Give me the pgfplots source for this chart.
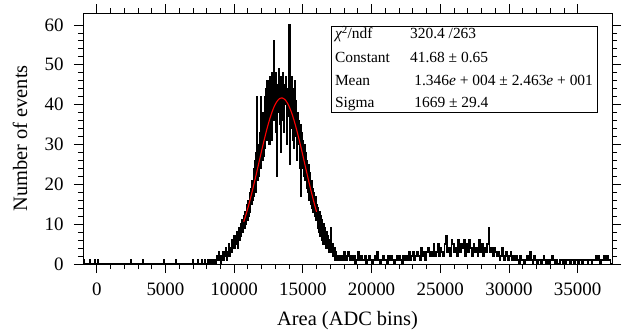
\documentclass[border=0pt]{standalone}
\usepackage{pgfplots}
\pgfplotsset{compat=1.18}
\usepackage{fontspec}
\setmainfont{Liberation Serif}
\begin{document}
\begin{tikzpicture}
\begin{axis}[
 at={(0,0)}, anchor=south west,
 width=529bp, height=251bp, scale only axis,
 xmin=-1000, xmax=37500, ymin=0, ymax=63,
 xtick={0,5000,...,35000}, ytick={0,10,...,60},
 minor x tick num=4, minor y tick num=4,
 tick align=outside,
 major tick length=9bp, minor tick length=5bp,
 tick style={black, line width=0.8bp},
 axis line style={line width=0.9bp},
 scaled ticks=false,
 /pgf/number format/1000 sep={},
 /pgf/number format/assume math mode=true,
 tick label style={font=\fontsize{19}{21}\selectfont},
 xticklabel style={yshift=-6bp},
 yticklabel style={xshift=-7bp},
 xlabel={Area (ADC bins)}, ylabel={Number of events},
 every axis x label/.style={at={(axis description cs:0.5,-0.227)}, anchor=center, font=\fontsize{20.5}{24}\selectfont},
 every axis y label/.style={at={(axis description cs:-0.119,0.5)}, anchor=center, rotate=90, font=\fontsize{20.5}{24}\selectfont},
]
% histogram
\addplot[black, line width=1.45bp, const plot mark left] coordinates {
(-1000,0) (-950,1) (-910,0) (-510,1) (-470,0) (-150,1) (-110,0) (60,1) (100,0)
(2480,1) (2520,0) (3360,1) (3400,0) (4890,1) (4930,0) (5770,1) (5810,0)
(7010,1) (7050,0) (7370,1) (7410,0) (7660,1) (7700,0) (7880,1) (7920,0) (8100,1) (8140,0)
(8200,0) (8250,1) (8300,0) (8350,1) (8400,0) (8450,1) (8500,1) (8550,0) (8600,1) (8650,0)
(8700,2) (8750,1) (8800,1) (8850,3) (8900,1) (8950,2) (9000,0) (9050,2) (9100,1) (9150,3)
(9200,2) (9250,1) (9300,3) (9350,2) (9400,4) (9450,1) (9500,3) (9550,2) (9600,5) (9650,2)
(9700,4) (9750,3) (9800,6) (9850,3) (9900,5) (9950,4) (10000,7) (10050,4) (10100,6) (10150,5)
(10200,8) (10250,4) (10300,7) (10350,9) (10400,6) (10450,10) (10500,7) (10550,11) (10600,8) (10650,10)
(10700,12) (10750,9) (10800,13) (10850,10) (10900,15) (10950,11) (11000,16) (11050,12) (11100,18) (11150,13)
(11200,19) (11250,15) (11300,21) (11350,16) (11400,24) (11450,17) (11500,26) (11550,18) (11600,28) (11650,42)
(11700,21) (11750,30) (11800,22) (11850,33) (11900,42) (11950,24) (12000,35) (12050,26) (12100,38) (12150,27)
(12200,42) (12250,29) (12300,44) (12350,31) (12400,46) (12450,33) (12500,45) (12550,30) (12600,47) (12650,34)
(12700,48) (12750,31) (12800,44) (12850,56) (12900,36) (12950,47) (13000,33) (13050,48) (13100,22) (13150,45)
(13200,38) (13250,49) (13300,35) (13350,47) (13400,28) (13450,46) (13500,36) (13550,48) (13600,33) (13650,45)
(13700,40) (13750,47) (13800,30) (13850,44) (13900,37) (13950,47) (14000,60) (14050,25) (14100,43) (14150,34)
(14200,47) (14250,31) (14300,44) (14350,29) (14400,46) (14450,32) (14500,41) (14550,26) (14600,38) (14650,30)
(14700,36) (14750,24) (14800,35) (14850,17) (14900,33) (14950,24) (15000,31) (15050,22) (15100,30) (15150,21)
(15200,28) (15250,19) (15300,26) (15350,18) (15400,25) (15450,16) (15500,23) (15550,15) (15600,21) (15650,14)
(15700,19) (15750,13) (15800,18) (15850,12) (15900,17) (15950,11) (16000,15) (16050,9) (16100,14) (16150,8)
(16200,13) (16250,7) (16300,12) (16350,6) (16400,11) (16450,5) (16500,10) (16550,5) (16600,9) (16650,4)
(16700,8) (16750,4) (16800,7) (16850,3) (16900,6) (16950,3) (17000,9) (17050,3) (17100,5) (17150,2)
(17200,5) (17250,2) (17300,4) (17350,1) (17400,3) (17450,2)
(17500,1) (17600,2) (17700,1) (17800,2) (17900,1) (18000,3) (18100,1) (18200,2) (18300,3) (18400,1)
(18500,2) (18600,1) (18700,2) (18800,0) (18900,1) (19000,3) (19100,1) (19200,2) (19300,1) (19400,1)
(19500,2) (19600,0) (19700,1) (19800,2) (19900,1) (20000,0) (20100,1) (20200,2) (20300,1) (20400,3)
(20500,1) (20600,0) (20700,1) (20800,2) (20900,1) (21000,1) (21100,0) (21200,2) (21300,1) (21400,2)
(21500,1) (21600,0) (21700,1) (21800,2) (21900,1) (22000,2) (22100,1) (22200,0) (22300,2) (22400,1)
(22500,2) (22600,1) (22700,3) (22800,1) (22900,2) (23000,3) (23100,1) (23200,2) (23300,3) (23400,2)
(23500,1) (23600,4) (23700,2) (23800,3) (23900,1) (24000,3) (24100,4) (24200,2) (24300,3) (24400,2)
(24500,5) (24600,2) (24700,3) (24800,5) (24900,2) (25000,4) (25100,3) (25200,2) (25300,5) (25400,7)
(25500,3) (25600,4) (25700,2) (25800,6) (25900,5) (26000,3) (26100,4) (26200,2) (26300,6) (26400,3)
(26500,5) (26600,4) (26700,6) (26800,2) (26900,5) (27000,3) (27100,6) (27200,4) (27300,2) (27400,5)
(27500,3) (27600,4) (27700,2) (27800,6) (27900,3) (28000,5) (28100,2) (28200,4) (28300,3) (28400,5)
(28500,9) (28600,3) (28700,4) (28800,2) (28900,4) (29000,3) (29100,2) (29200,3) (29300,1) (29400,2)
(29500,4) (29600,1) (29700,2) (29800,3) (29900,1) (30000,2) (30100,3) (30200,1) (30300,2) (30400,1)
(30500,2) (30600,1) (30700,0) (30800,2) (30900,1) (31000,1) (31100,0) (31200,1) (31300,2) (31400,1)
(31500,3) (31600,1) (31700,0) (31800,2) (31900,1) (32000,0) (32100,1) (32200,1) (32300,0) (32400,1)
(32500,2) (32600,1) (32700,0) (32800,1) (32900,0) (33000,1) (33100,2) (33200,1) (33300,0) (33400,1)
(33500,0) (33600,0) (33700,1) (33800,1) (33900,0) (34000,1) (34100,0) (34200,1) (34300,1) (34400,0)
(34500,1) (34600,1) (34700,0) (34800,1) (34900,1) (35000,0) (35100,1) (35200,1) (35300,0) (35400,1)
(35500,1) (35600,1) (35700,0) (35800,1) (35900,1) (36000,0) (36100,1) (36200,1) (36300,2) (36400,1)
(36500,2) (36600,0) (36700,1) (36800,1) (36900,2) (37000,1) (37100,2) (37200,1) (37300,1) (37400,0) (37500,0)
};
% Gaussian fit
\addplot[red, line width=1.1bp, smooth] coordinates {
(10700,10.62) (10800,11.70) (10900,12.85) (11000,14.07) (11100,15.33) (11200,16.66) (11300,18.04)
(11400,19.46) (11500,20.92) (11600,22.40) (11700,23.90) (11800,25.42) (11900,26.93) (12000,28.43)
(12100,29.91) (12200,31.34) (12300,32.74) (12400,34.07) (12500,35.32) (12600,36.50) (12700,37.58)
(12800,38.55) (12900,39.40) (13000,40.13) (13100,40.72) (13200,41.18) (13300,41.49) (13400,41.65)
(13500,41.67) (13600,41.53) (13700,41.25) (13800,40.82) (13900,40.26) (14000,39.55) (14100,38.73)
(14200,37.78) (14300,36.72) (14400,35.57) (14500,34.33) (14600,33.01) (14700,31.63) (14800,30.20)
(14900,28.73) (15000,27.23) (15100,25.72) (15200,24.20) (15300,22.70) (15400,21.21) (15500,19.75)
(15600,18.32) (15700,16.93) (15800,15.60) (15900,14.32) (16000,13.09)
};
% statistics box
\draw[black, line width=0.8bp, fill=white] (rel axis cs:0.469,0.602) rectangle (rel axis cs:0.972,0.948);
\begin{scope}[every node/.style={anchor=base west, inner sep=0pt, font=\fontsize{15.5}{18}\selectfont}]
\node at (rel axis cs:0.476,0.898) {{\itshape χ}\textsuperscript{2}/ndf};
\node at (rel axis cs:0.476,0.801) {Constant};
\node at (rel axis cs:0.476,0.713) {Mean};
\node at (rel axis cs:0.476,0.625) {Sigma};
\node at (rel axis cs:0.618,0.898) {320.4 /263};
\node at (rel axis cs:0.618,0.801) {41.68 ± 0.65};
\node at (rel axis cs:0.626,0.713) {1.346\textit{e} + 004 ± 2.463\textit{e} + 001};
\node at (rel axis cs:0.626,0.625) {1669 ± 29.4};
\end{scope}
\end{axis}
\pgfresetboundingbox
\path[use as bounding box] (-83bp,-71bp) rectangle (540bp,264bp);
\end{tikzpicture}
\end{document}
